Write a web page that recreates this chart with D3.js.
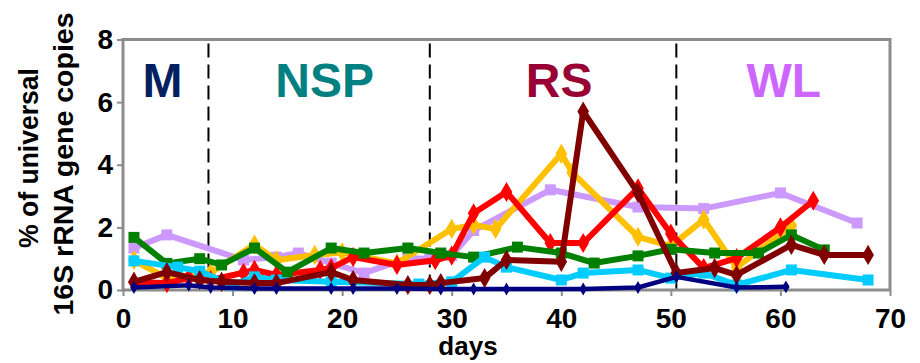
<!DOCTYPE html>
<html><head><meta charset="utf-8">
<script src="https://cdn.jsdelivr.net/npm/d3@7"></script>
<style>body{margin:0;background:#fff}svg{display:block}text{font-family:"Liberation Sans",Arial,sans-serif;font-weight:bold}</style>
</head><body><svg id="c" width="920" height="363"></svg>
<script>
const xTicks = [0,10,20,30,40,50,60,70];
const yTicks = [0,2,4,6,8];
const phaseBounds = [7.8, 28, 50.5];
const phaseLabels = ["M","NSP","RS","WL"];
const phaseLabelDays = [3.6, 18.4, 39.8, 60.3];
const phaseColors = ["#002060","#008080","#990033","#CC66FF"];

const lavenderDays = [1,4,11,14,16,19,22,26,28,30,32,39,47,53,60,67];
const lavenderVals = [1.34,1.76,0.96,1.05,1.18,0.86,0.54,1.02,0.99,1.1,1.9,3.2,2.65,2.6,3.1,2.14];
const yellowDays = [1,4,8,12,14,17.5,20,25,30,32,34,40,41,47,50,53,56,61];
const yellowVals = [0.95,0.38,0.55,1.45,0.95,1.12,1.2,0.85,1.95,2.08,1.95,4.35,3.75,1.7,1.4,2.25,0.72,2.05];
const redDays = [1,4,6,8,11,12,14,18,19,21,25,28.5,30,32,35,39,42,47,50,53,56,60,63];
const redVals = [0.25,0.22,0.38,0.32,0.55,0.64,0.48,0.64,0.7,1.05,0.8,0.95,1.1,2.45,3.13,1.5,1.5,3.25,1.8,0.7,1.02,2.0,2.85];
const greenDays = [1,4,7,9,12,15,19,22,26,29,32,36,40,43,47,50,54,58,61,64];
const greenVals = [1.68,0.85,1.0,0.8,1.34,0.57,1.34,1.18,1.34,1.18,1.05,1.37,1.18,0.86,1.09,1.3,1.18,1.18,1.76,1.28];
const cyanDays = [1,5,7,10,12,14,19,27,30,33,35,40,42,47,50,53,56,61,68];
const cyanVals = [0.93,0.73,0.6,0.16,0.42,0.32,0.26,0.19,0.26,1.05,0.73,0.32,0.54,0.64,0.38,0.54,0.16,0.64,0.32];
const maroonDays = [1,4,7,9,12,14,19,21,26,28,29,33,35,40,42,47,50.5,54,56,61,64,68];
const maroonVals = [0.26,0.57,0.32,0.26,0.22,0.22,0.57,0.32,0.16,0.16,0.22,0.38,0.96,0.9,5.7,3.1,0.54,0.7,0.48,1.44,1.12,1.12];
const navyDays = [1,6,8,12,14,19,21,25,29,32,35,42,47,50.5,56,60.5];
const navyVals = [0.08,0.15,0.08,0.05,0.05,0.05,0.05,0.05,0.03,0.03,0.03,0.03,0.08,0.42,0.08,0.1];

const series = [
  {days:lavenderDays, vals:lavenderVals, color:"#CC99FF", marker:"square", w:6, m:11},
  {days:yellowDays, vals:yellowVals, color:"#FFC000", marker:"diamond", w:6, m:14},
  {days:redDays, vals:redVals, color:"#FF0000", marker:"diamond", w:6, m:14},
  {days:greenDays, vals:greenVals, color:"#008000", marker:"square", w:6, m:11},
  {days:cyanDays, vals:cyanVals, color:"#00CCFF", marker:"square", w:6, m:11},
  {days:maroonDays, vals:maroonVals, color:"#800000", marker:"diamond", w:6, m:14},
  {days:navyDays, vals:navyVals, color:"#000080", marker:"diamond", w:4.5, m:9}
];

const svg = d3.select("#c");
const x = d3.scaleLinear().domain([0,70]).range([123,890]);
const y = d3.scaleLinear().domain([0,8]).range([290,39.5]);

// frame
svg.append("rect").attr("x",x(0)).attr("y",y(8)).attr("width",x(70)-x(0)).attr("height",y(0)-y(8))
  .attr("fill","#fff").attr("stroke","#8c8c8c").attr("stroke-width",3);

// dashed phase lines
svg.selectAll(".ph").data(phaseBounds).join("line")
  .attr("x1",d=>x(d)).attr("x2",d=>x(d)).attr("y1",y(8)+4).attr("y2",y(0))
  .attr("stroke","#000").attr("stroke-width",2).attr("stroke-dasharray","14,7");

// phase labels
svg.selectAll(".pl").data(phaseLabels).join("text")
  .attr("x",(d,i)=>x(phaseLabelDays[i])).attr("y",97).attr("text-anchor","middle")
  .attr("font-size",48).attr("fill",(d,i)=>phaseColors[i]).text(d=>d);

// axes
const xAxis = d3.axisBottom(x).tickValues(xTicks).tickSize(5).tickPadding(12).tickFormat(d3.format("d"));
const gx = svg.append("g").attr("transform",`translate(0,${y(0)+1})`).call(xAxis);
gx.select(".domain").remove();
gx.selectAll("line").attr("stroke","#8c8c8c").attr("stroke-width",2);
gx.selectAll("text").attr("font-size",28).attr("fill","#000").attr("font-family","Liberation Sans, Arial, sans-serif");

const yAxis = d3.axisLeft(y).tickValues(yTicks).tickSize(5).tickPadding(4);
const gy = svg.append("g").attr("transform",`translate(${x(0)-1},0)`).call(yAxis);
gy.select(".domain").remove();
gy.selectAll("line").attr("stroke","#8c8c8c").attr("stroke-width",2);
gy.selectAll("text").attr("font-size",28).attr("fill","#000").attr("font-family","Liberation Sans, Arial, sans-serif");

// axis titles
svg.append("text").attr("x",468).attr("y",355).attr("text-anchor","middle").attr("font-size",26).text("days");
svg.append("text").attr("transform","translate(38,158) rotate(-90)").attr("text-anchor","middle")
  .attr("font-size",27).attr("textLength",180).attr("lengthAdjust","spacingAndGlyphs").text("% of universal");
svg.append("text").attr("transform","translate(73,164) rotate(-90)").attr("text-anchor","middle")
  .attr("font-size",27).attr("textLength",303).attr("lengthAdjust","spacingAndGlyphs").text("16S rRNA gene copies");

// series
const line = d3.line().x(d=>x(d[0])).y(d=>y(d[1]));
series.forEach(s=>{
  const pts = s.days.map((d,i)=>[d,s.vals[i]]);
  const g = svg.append("g");
  g.append("path").datum(pts).attr("d",line).attr("fill","none")
    .attr("stroke",s.color).attr("stroke-width",s.w).attr("stroke-linejoin","round");
  const sym = d3.symbol().type(s.marker==="square"?d3.symbolSquare:d3.symbolDiamond)
    .size(s.marker==="square"? s.m*s.m : s.m*s.m*0.6);
  g.selectAll("path.mk").data(pts).join("path").attr("class","mk")
    .attr("transform",d=>`translate(${x(d[0])},${y(d[1])})`).attr("d",sym).attr("fill",s.color);
});
</script></body></html>
